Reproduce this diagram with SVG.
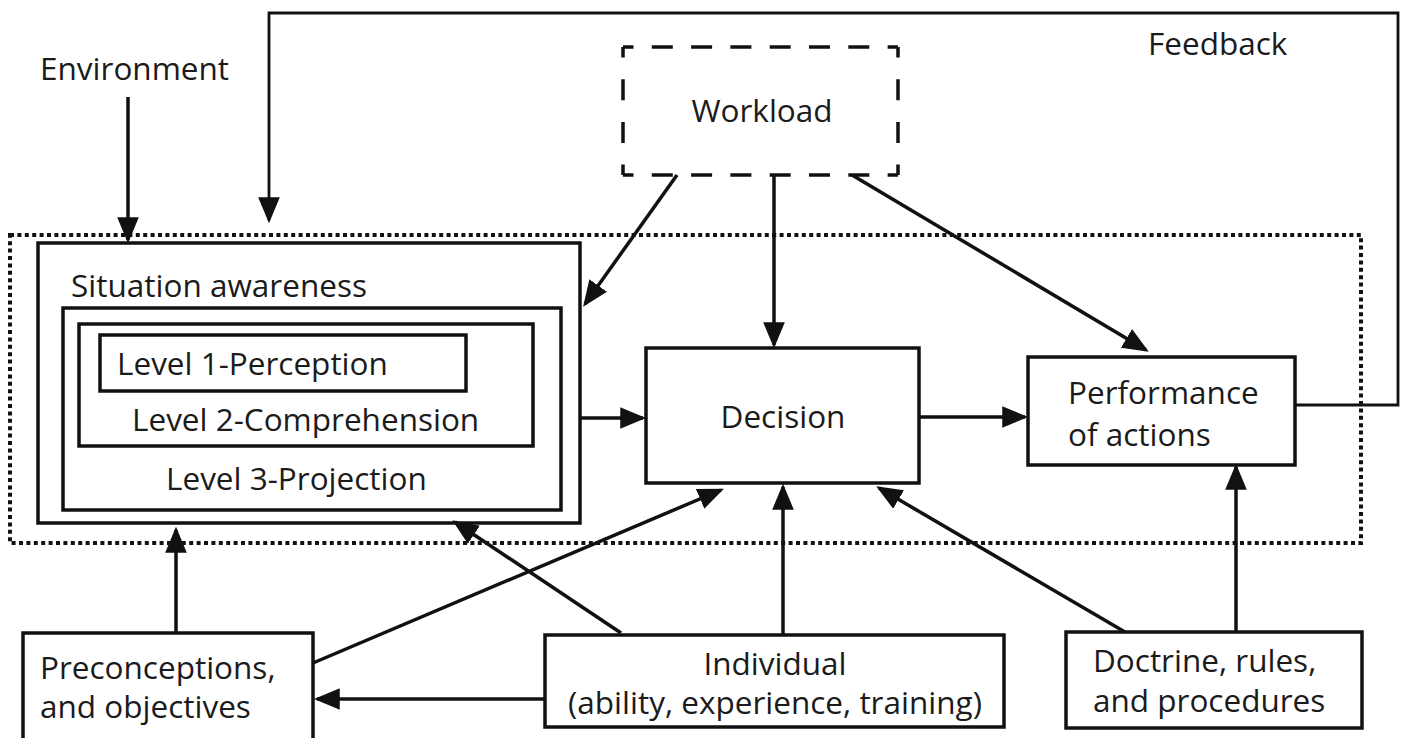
<svg xmlns="http://www.w3.org/2000/svg" width="1404" height="738" viewBox="0 0 1404 738">
  <style>
    .box { fill: none; stroke: #111; stroke-width: 3.5; }
    .dash { fill: none; stroke: #111; stroke-width: 3.5; stroke-dasharray: 21 18.3; stroke-dashoffset: 10.5; }
    .dashv { fill: none; stroke: #111; stroke-width: 3.5; stroke-dasharray: 21 21.7; stroke-dashoffset: 10.5; }
    .dots { fill: none; stroke: #111; stroke-width: 4; stroke-dasharray: 4 3.4; }
    .conn { fill: none; stroke: #111; stroke-width: 3.5; marker-end: url(#head); }
    .fb { fill: none; stroke: #111; stroke-width: 2.8; }
    text { font-family: "Open Sans", "Noto Sans", sans-serif; font-size: 31.5px; fill: #1b1b1b; }
    .mid { text-anchor: middle; }
  </style>
  <defs>
    <marker id="head" markerUnits="userSpaceOnUse" markerWidth="26" markerHeight="22" viewBox="0 0 24 20" refX="21" refY="10" orient="auto">
      <path d="M0,0 L24,10 L0,20 z" fill="#111"/>
    </marker>
  </defs>
  <rect width="1404" height="738" fill="#fff"/>

  <!-- dotted system boundary -->
  <rect id="boundary" class="dots" x="10" y="235" width="1351" height="308"/>

  <g id="environment">
    <text x="40" y="80">Environment</text>
  </g>

  <g id="feedback-label">
    <text x="1148" y="55">Feedback</text>
  </g>

  <g id="workload">
    <path class="dash" d="M623 47 H898"/>
    <path class="dash" d="M623 175 H898"/>
    <path class="dashv" d="M623 47 V175"/>
    <path class="dashv" d="M898 47 V175"/>
    <text class="mid" x="762" y="122">Workload</text>
  </g>

  <g id="situation-awareness">
    <rect class="box" x="38" y="243" width="542" height="280"/>
    <text x="71" y="297">Situation awareness</text>
    <rect class="box" x="63" y="308" width="498" height="202"/>
    <rect class="box" x="79" y="324" width="454" height="122"/>
    <rect class="box" x="100" y="335" width="366" height="56"/>
    <text x="117" y="375">Level 1-Perception</text>
    <text x="132" y="431">Level 2-Comprehension</text>
    <text x="166" y="490">Level 3-Projection</text>
  </g>

  <g id="decision">
    <rect class="box" x="646" y="348" width="273" height="135"/>
    <text class="mid" x="783" y="428">Decision</text>
  </g>

  <g id="performance">
    <rect class="box" x="1028" y="357" width="267" height="108"/>
    <text x="1068" y="404">Performance</text>
    <text x="1068" y="446">of actions</text>
  </g>

  <g id="preconceptions">
    <rect class="box" x="23" y="633" width="290" height="120"/>
    <text x="40" y="679">Preconceptions,</text>
    <text x="40" y="718">and objectives</text>
  </g>

  <g id="individual">
    <rect class="box" x="545" y="635" width="459" height="92"/>
    <text class="mid" x="775" y="675">Individual</text>
    <text class="mid" x="775" y="714">(ability, experience, training)</text>
  </g>

  <g id="doctrine">
    <rect class="box" x="1066" y="632" width="296" height="96"/>
    <text x="1093" y="672">Doctrine, rules,</text>
    <text x="1093" y="712">and procedures</text>
  </g>

  <g id="connectors">
    <!-- feedback loop from performance back over the top -->
    <path class="fb" d="M1295 405 H1398 V13 H269 V220" marker-end="url(#head)"/>
    <line class="conn" x1="128" y1="97" x2="128" y2="240"/>
    <!-- workload influences -->
    <line class="conn" x1="677" y1="175" x2="585" y2="304"/>
    <line class="conn" x1="774" y1="175" x2="774" y2="345"/>
    <line class="conn" x1="852" y1="175" x2="1146" y2="350"/>
    <!-- main flow -->
    <line class="conn" x1="580" y1="418" x2="643" y2="418"/>
    <line class="conn" x1="919" y1="417" x2="1025" y2="417"/>
    <!-- inputs from below -->
    <line class="conn" x1="176" y1="633" x2="176" y2="530"/>
    <line class="conn" x1="313" y1="663" x2="721" y2="490"/>
    <line class="conn" x1="545" y1="699" x2="317" y2="699"/>
    <line class="conn" x1="621" y1="633" x2="455" y2="522"/>
    <line class="conn" x1="783" y1="635" x2="783" y2="487"/>
    <line class="conn" x1="1125" y1="632" x2="879" y2="488"/>
    <line class="conn" x1="1236" y1="632" x2="1236" y2="467"/>
  </g>
</svg>
